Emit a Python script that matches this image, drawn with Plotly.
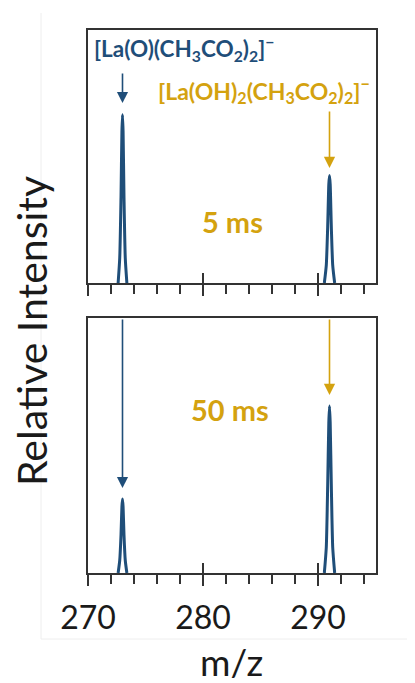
import plotly.graph_objects as go

# ---- data ----
mz_peak_a = [272.62, 272.76, 272.87, 272.95, 273.0, 273.05, 273.13, 273.24, 273.38]
mz_peak_b = [290.55, 290.72, 290.84, 290.94, 291.0, 291.06, 291.16, 291.28, 291.45]
int_5ms_a = [0.0, 0.10, 0.34, 0.60, 0.665, 0.60, 0.34, 0.10, 0.0]
int_5ms_b = [0.0, 0.07, 0.22, 0.39, 0.425, 0.39, 0.22, 0.07, 0.0]
int_50ms_a = [0.0, 0.05, 0.15, 0.26, 0.29, 0.26, 0.15, 0.05, 0.0]
int_50ms_b = [0.0, 0.10, 0.34, 0.59, 0.655, 0.59, 0.34, 0.10, 0.0]
x_range = [270, 295]
x_tickvals = [270, 280, 290]
x_ticktext = ["270", "280", "290"]
panel_labels = ["5 ms", "50 ms"]
ion_a = "<b>[La(O)(CH<sub>3</sub>CO<sub>2</sub>)<sub>2</sub>]<sup>−</sup></b>"
ion_b = "<b>[La(OH)<sub>2</sub>(CH<sub>3</sub>CO<sub>2</sub>)<sub>2</sub>]<sup>−</sup></b>"

BLUE = "#1F4E79"
GOLD = "#D4A20F"
AXC = "#333333"
FONT = "Lato"
W, H = 415, 683
OFF = 8  # page body margin


def px(x):
    return (x - OFF) / W


def py(y):
    return 1 - (y - OFF) / H


fig = go.Figure()

panels = [
    ("x", "y", int_5ms_a, int_5ms_b),
    ("x2", "y2", int_50ms_a, int_50ms_b),
]
for xa, ya, ia, ib in panels:
    for mz, it in ((mz_peak_a, ia), (mz_peak_b, ib)):
        fig.add_trace(go.Scatter(x=mz, y=it, mode="lines", xaxis=xa, yaxis=ya,
                                 line=dict(color=BLUE, width=3, shape="spline", smoothing=0.6),
                                 showlegend=False, hoverinfo="skip"))

xdom = [px(88), px(375.5)]
top_dom = [py(283), py(30)]
bot_dom = [py(573), py(318)]

common_x = dict(range=x_range, showline=True, linecolor=AXC, linewidth=2, mirror=True,
                showgrid=False, zeroline=False, tickvals=x_tickvals, ticks="outside",
                ticklen=11, tickwidth=2, tickcolor=AXC, automargin=False,
                minor=dict(dtick=2, tick0=270, ticks="outside", ticklen=9, tickwidth=2,
                           tickcolor=AXC, showgrid=False),
                fixedrange=True)
common_y = dict(range=[0, 1], showline=True, linecolor=AXC, linewidth=2, mirror=True,
                showgrid=False, zeroline=False, showticklabels=False, ticks="",
                automargin=False, fixedrange=True)
inner_ticks = dict(range=x_range, showline=False, showgrid=False, zeroline=False,
                   tickvals=x_tickvals[1:], ticks="inside", ticklen=10, tickwidth=2,
                   tickcolor=AXC, showticklabels=False, automargin=False, fixedrange=True)

fig.update_layout(
    template="none",
    width=W, height=H, autosize=False,
    margin=dict(l=0, r=0, t=0, b=0, pad=0),
    paper_bgcolor="white", plot_bgcolor="white", showlegend=False,
    xaxis=dict(domain=xdom, anchor="y", showticklabels=False, **common_x),
    yaxis=dict(domain=top_dom, anchor="x", **common_y),
    xaxis2=dict(domain=xdom, anchor="y2", showticklabels=True, ticktext=x_ticktext,
                tickfont=dict(family=FONT, size=32, color="#1a1a1a"),
                ticklabelstandoff=5, **common_x),
    yaxis2=dict(domain=bot_dom, anchor="x2", **common_y),
    xaxis3=dict(overlaying="x", anchor="y", domain=xdom, **inner_ticks),
    xaxis4=dict(overlaying="x2", anchor="y2", domain=xdom, **inner_ticks),
)
# dummy traces to activate overlay axes
fig.add_trace(go.Scatter(x=[None], y=[None], xaxis="x3", yaxis="y", showlegend=False))
fig.add_trace(go.Scatter(x=[None], y=[None], xaxis="x4", yaxis="y2", showlegend=False))

# faint outer frame
fig.add_shape(type="line", xref="paper", yref="paper", x0=px(41), x1=px(41), y0=py(13), y1=py(639),
              line=dict(color="#eeeeee", width=1))
fig.add_shape(type="line", xref="paper", yref="paper", x0=px(41), x1=1, y0=py(639), y1=py(639),
              line=dict(color="#eeeeee", width=1))

ann = []
# arrows
arrows = [
    ("x", "y", mz_peak_a[4], 0.711, -31, BLUE),
    ("x", "y", mz_peak_b[4], 0.455, -58, GOLD),
    ("x2", "y2", mz_peak_a[4], 0.333, -170, BLUE),
    ("x2", "y2", mz_peak_b[4], 0.698, -77, GOLD),
]
for xr, yr, xv, yv, ay, c in arrows:
    ann.append(dict(x=xv, y=yv, xref=xr, yref=yr, ax=0, ay=ay, text="", showarrow=True,
                    arrowhead=2, arrowsize=1.4, arrowwidth=1.6, arrowcolor=c, standoff=0))
# ion labels
ann.append(dict(x=px(184), y=py(48), xref="paper", yref="paper", text=ion_a, showarrow=False,
                font=dict(family=FONT, size=22.5, color=BLUE), xanchor="center", yanchor="middle"))
ann.append(dict(x=px(264), y=py(90), xref="paper", yref="paper", text=ion_b, showarrow=False,
                font=dict(family=FONT, size=23, color=GOLD), xanchor="center", yanchor="middle"))
# time labels
ann.append(dict(x=px(232), y=py(221), xref="paper", yref="paper", text="<b>" + panel_labels[0] + "</b>",
                showarrow=False, font=dict(family=FONT, size=29, color=GOLD),
                xanchor="center", yanchor="middle"))
ann.append(dict(x=px(230), y=py(409), xref="paper", yref="paper", text="<b>" + panel_labels[1] + "</b>",
                showarrow=False, font=dict(family=FONT, size=29, color=GOLD),
                xanchor="center", yanchor="middle"))
# axis titles
ann.append(dict(x=px(231), y=py(661), xref="paper", yref="paper", text="m/z", showarrow=False,
                font=dict(family=FONT, size=37, color="#1a1a1a"), xanchor="center", yanchor="middle"))
ann.append(dict(x=px(31), y=py(331), xref="paper", yref="paper", text="Relative Intensity",
                showarrow=False, textangle=-90,
                font=dict(family=FONT, size=41, color="#1a1a1a"), xanchor="center", yanchor="middle"))
fig.update_layout(annotations=ann)

fig.write_html("out.html")
